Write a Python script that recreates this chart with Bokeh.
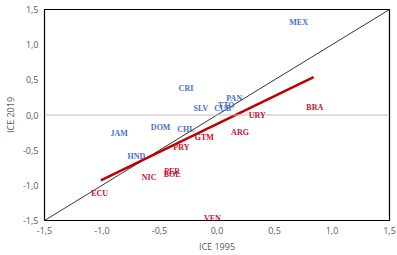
from bokeh.plotting import figure
from bokeh.models import Range1d, FixedTicker, CustomJSTickFormatter, ColumnDataSource, Span, LabelSet
from bokeh.embed import file_html
from bokeh.resources import INLINE

countries = ["MEX", "BRA", "URY", "ARG", "PAN", "TTO", "CUB", "SLV", "CRI", "JAM",
             "DOM", "CHL", "GTM", "PRY", "HND", "PER", "BOL", "NIC", "ECU", "VEN"]
ice_1995 = [0.71, 0.85, 0.35, 0.20, 0.15, 0.08, 0.05, -0.14, -0.27, -0.85,
            -0.49, -0.27, -0.11, -0.31, -0.70, -0.39, -0.39, -0.59, -1.02, -0.04]
ice_2019 = [1.32, 0.10, 0.00, -0.25, 0.23, 0.14, 0.09, 0.09, 0.38, -0.26,
            -0.18, -0.21, -0.32, -0.46, -0.59, -0.80, -0.85, -0.89, -1.12, -1.47]
groups = ["up", "down", "down", "down", "up", "up", "up", "up", "up", "up",
          "up", "up", "down", "down", "up", "down", "down", "down", "down", "down"]

diag_x = [-1.5, 1.5]
diag_y = [-1.5, 1.5]
trend_x = [-1.01, 0.84]
trend_y = [-0.93, 0.54]
ticks = [-1.5, -1.0, -0.5, 0.0, 0.5, 1.0, 1.5]

BLUE = "#4472C4"
RED = "#C00000"
colors = [BLUE if g == "up" else "#C8102E" for g in groups]

p = figure(width=397, height=255, output_backend="svg", toolbar_location=None,
           x_range=Range1d(-1.5, 1.5), y_range=Range1d(-1.5, 1.5),
           min_border_left=10, min_border_right=8, min_border_top=9, min_border_bottom=10)
p.background_fill_color = "white"
p.border_fill_color = "white"
p.outline_line_color = "black"
p.outline_line_width = 1.2
p.xgrid.visible = False
p.ygrid.visible = False

fmt = CustomJSTickFormatter(code="return tick.toFixed(1).replace('.', ',');")
for ax in (p.xaxis[0], p.yaxis[0]):
    ax.ticker = FixedTicker(ticks=ticks)
    ax.formatter = fmt
    ax.axis_line_color = None
    ax.major_tick_line_color = None
    ax.minor_tick_line_color = None
    ax.major_tick_out = 0
    ax.major_tick_in = 0
    ax.minor_tick_out = 0
    ax.minor_tick_in = 0
    ax.major_label_text_font = "Open Sans"
    ax.major_label_text_font_size = "9px"
    ax.major_label_text_color = "#595959"
    ax.axis_label_text_font = "Open Sans"
    ax.axis_label_text_font_size = "9px"
    ax.axis_label_text_font_style = "normal"
    ax.axis_label_text_color = "#595959"
p.xaxis.axis_label = "ICE 1995"
p.yaxis.axis_label = "ICE 2019"
p.xaxis.major_label_standoff = 6
p.yaxis.major_label_standoff = 6
p.xaxis.axis_label_standoff = 3
p.yaxis.axis_label_standoff = 3

p.add_layout(Span(location=0, dimension="width", line_color="#BFBFBF", line_width=1))
p.line(diag_x, diag_y, line_color="black", line_width=0.8)
p.line(trend_x, trend_y, line_color=RED, line_width=2.5)

src = ColumnDataSource(dict(x=ice_1995, y=ice_2019, t=countries, c=colors))
labels = LabelSet(x="x", y="y", text="t", source=src, text_color="c",
                  text_font_size="8px", text_font_style="bold", text_align="center",
                  text_baseline="middle", text_font="Open Sans")
p.add_layout(labels)

open("out.html", "w").write(file_html(p, INLINE))
